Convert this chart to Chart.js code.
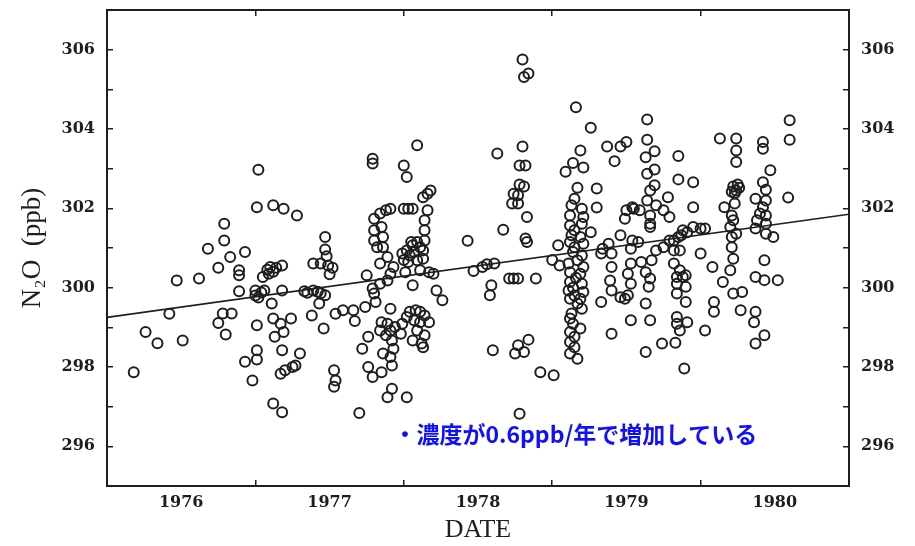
<!DOCTYPE html>
<html>
<head>
<meta charset="utf-8">
<script src="https://cdn.jsdelivr.net/npm/chart.js@4.4.0/dist/chart.umd.min.js"></script>
<style>
  html, body { margin: 0; padding: 0; background: #fff; }
</style>
</head>
<body>
<canvas id="myChart" width="915" height="546"></canvas>
<script>
// x axis: year labels sit in the middle of each year, tick marks at year boundaries
const yearLabels = ['1976', '1977', '1978', '1979', '1980'];
const yearLabelPos = [1976.5, 1977.5, 1978.5, 1979.5, 1980.5];

// linear trend drawn across the whole period
const trendDates = [1976.0, 1981.0];
const trendPpb = [299.25, 301.85];

const noteText = '・濃度が0.6ppb/年で増加している';
const noteAt = [1977.93, 296.3];

// N2O samples [date, ppb]
const obs1976 = [
  [1976.18, 297.87], [1976.26, 298.88], [1976.34, 298.60], [1976.42, 299.34],
  [1976.47, 300.18], [1976.51, 298.67], [1976.62, 300.23], [1976.68, 300.98],
  [1976.75, 300.50], [1976.79, 301.61], [1976.79, 301.19], [1976.75, 299.11],
  [1976.80, 298.82], [1976.84, 299.35], [1976.78, 299.35], [1976.83, 300.77],
  [1976.93, 300.90], [1976.89, 300.44], [1976.89, 300.31], [1976.89, 299.91],
  [1976.93, 298.13], [1976.98, 297.66],
];

const obs1977 = [
  [1977.02, 302.97], [1977.01, 302.03], [1977.12, 302.08], [1977.19, 301.99], [1977.28, 301.82],
  [1977.00, 299.93], [1977.00, 299.80], [1977.02, 299.75], [1977.04, 299.88], [1977.06, 299.93],
  [1977.05, 300.27], [1977.08, 300.45], [1977.10, 300.52], [1977.12, 300.40], [1977.14, 300.50],
  [1977.09, 300.35], [1977.18, 300.56], [1977.18, 299.93], [1977.11, 299.60],
  [1977.33, 299.91], [1977.35, 299.87], [1977.39, 299.93], [1977.42, 299.90], [1977.44, 299.86],
  [1977.47, 299.81], [1977.43, 299.60], [1977.38, 299.30], [1977.46, 298.97],
  [1977.47, 301.28], [1977.47, 300.96], [1977.48, 300.79], [1977.39, 300.61], [1977.44, 300.61],
  [1977.49, 300.56], [1977.52, 300.50], [1977.50, 300.34],
  [1977.01, 299.05], [1977.12, 299.22], [1977.17, 299.09], [1977.24, 299.22], [1977.19, 298.88],
  [1977.13, 298.76], [1977.01, 298.42], [1977.01, 298.19], [1977.18, 298.42], [1977.30, 298.34],
  [1977.17, 297.83], [1977.20, 297.92], [1977.25, 298.00], [1977.27, 298.04],
  [1977.12, 297.08], [1977.18, 296.86], [1977.53, 297.92], [1977.54, 297.66], [1977.53, 297.50],
  [1977.54, 299.34], [1977.59, 299.43],
  [1977.79, 303.25], [1977.79, 303.13],
  [1977.91, 301.99], [1977.88, 301.95], [1977.84, 301.87], [1977.80, 301.74],
  [1977.80, 301.45], [1977.85, 301.53], [1977.86, 301.28], [1977.80, 301.19], [1977.82, 301.02],
  [1977.86, 301.02], [1977.89, 300.77], [1977.84, 300.61],
  [1977.93, 300.52], [1977.91, 300.35], [1977.89, 300.18], [1977.84, 300.10], [1977.75, 300.31],
  [1977.79, 299.98], [1977.80, 299.85], [1977.81, 299.64], [1977.74, 299.51], [1977.66, 299.43],
  [1977.67, 299.16], [1977.99, 300.86],
  [1977.91, 299.47], [1977.85, 299.13], [1977.89, 299.09], [1977.84, 298.92], [1977.88, 298.80],
  [1977.91, 298.92], [1977.94, 299.01], [1977.92, 298.67], [1977.98, 298.84], [1977.99, 299.09],
  [1977.93, 298.46], [1977.91, 298.25], [1977.86, 298.34], [1977.85, 297.87], [1977.92, 298.04],
  [1977.76, 298.76], [1977.72, 298.46], [1977.76, 298.00], [1977.79, 297.75],
  [1977.89, 297.24], [1977.92, 297.45], [1977.70, 296.84],
];

const obs1978 = [
  [1978.09, 303.59], [1978.00, 303.08], [1978.02, 302.79],
  [1978.18, 302.45], [1978.16, 302.37], [1978.13, 302.28],
  [1978.16, 301.95], [1978.14, 301.70], [1978.14, 301.45], [1978.14, 301.19], [1978.13, 300.94],
  [1978.13, 300.73], [1978.00, 301.99], [1978.03, 301.99], [1978.06, 301.99],
  [1978.01, 300.39], [1978.02, 300.94], [1978.06, 301.07], [1978.04, 300.81], [1978.09, 301.15],
  [1978.11, 301.02], [1978.09, 300.69], [1978.11, 300.44], [1978.17, 300.39], [1978.20, 300.35],
  [1978.03, 300.65], [1978.07, 300.90], [1978.00, 300.70], [1978.05, 301.15],
  [1978.06, 300.06], [1978.22, 299.93], [1978.26, 299.68],
  [1978.04, 299.39], [1978.08, 299.43], [1978.11, 299.39], [1978.14, 299.30], [1978.02, 299.26],
  [1978.07, 299.18], [1978.11, 299.13], [1978.17, 299.13], [1978.09, 298.92], [1978.14, 298.80],
  [1978.06, 298.67], [1978.12, 298.59], [1978.13, 298.50], [1978.02, 297.24],
  [1978.80, 305.75], [1978.81, 305.31], [1978.84, 305.40],
  [1978.80, 303.56], [1978.63, 303.38], [1978.78, 303.08], [1978.82, 303.08],
  [1978.78, 302.60], [1978.81, 302.55], [1978.74, 302.37], [1978.77, 302.33], [1978.73, 302.12],
  [1978.77, 302.12], [1978.83, 301.78], [1978.67, 301.46], [1978.82, 301.24], [1978.83, 301.15],
  [1978.43, 301.18], [1978.61, 300.61], [1978.56, 300.59], [1978.53, 300.52], [1978.47, 300.42],
  [1978.59, 300.06], [1978.58, 299.81],
  [1978.71, 300.23], [1978.74, 300.23], [1978.77, 300.23], [1978.89, 300.23],
  [1978.60, 298.42], [1978.84, 298.69], [1978.77, 298.55], [1978.75, 298.34], [1978.81, 298.38],
  [1978.92, 297.87], [1978.78, 296.82],
];

const obs1979 = [
  [1979.01, 297.79], [1979.16, 304.55], [1979.26, 304.03],
  [1979.19, 303.46], [1979.14, 303.14], [1979.09, 302.92], [1979.21, 303.03],
  [1979.30, 302.50], [1979.30, 302.02],
  [1979.17, 302.52], [1979.15, 302.24], [1979.20, 301.99], [1979.13, 302.08], [1979.12, 301.82],
  [1979.21, 301.78], [1979.12, 301.57], [1979.20, 301.61], [1979.15, 301.45], [1979.26, 301.40],
  [1979.13, 301.32], [1979.19, 301.28], [1979.12, 301.15], [1979.21, 301.11], [1979.15, 301.02],
  [1979.04, 301.07], [1979.00, 300.70], [1979.14, 300.90], [1979.20, 300.81], [1979.17, 300.69],
  [1979.11, 300.61], [1979.05, 300.56], [1979.21, 300.52],
  [1979.12, 300.39], [1979.19, 300.35], [1979.12, 300.14], [1979.20, 300.10], [1979.11, 299.93],
  [1979.21, 299.89], [1979.12, 299.72], [1979.19, 299.72], [1979.20, 299.47],
  [1979.16, 300.25], [1979.15, 299.80], [1979.14, 300.00], [1979.17, 299.60],
  [1979.12, 299.22], [1979.14, 299.09], [1979.19, 298.97], [1979.12, 298.88], [1979.15, 298.76],
  [1979.12, 298.63], [1979.15, 298.50], [1979.12, 298.34], [1979.17, 298.21], [1979.13, 299.35],
  [1979.37, 303.56], [1979.46, 303.56], [1979.50, 303.67], [1979.42, 303.19],
  [1979.50, 301.95], [1979.54, 302.03], [1979.49, 301.74], [1979.46, 301.32], [1979.38, 301.11],
  [1979.34, 300.98], [1979.33, 300.86], [1979.40, 300.86], [1979.40, 300.52], [1979.54, 301.19],
  [1979.53, 300.98], [1979.58, 301.15], [1979.53, 300.61], [1979.51, 300.35], [1979.39, 300.18],
  [1979.40, 299.93], [1979.53, 300.10], [1979.46, 299.76], [1979.49, 299.72], [1979.51, 299.81],
  [1979.33, 299.64], [1979.53, 299.18], [1979.40, 298.84],
  [1979.64, 304.24], [1979.64, 303.73], [1979.63, 303.29], [1979.69, 303.44], [1979.69, 302.98],
  [1979.64, 302.87], [1979.69, 302.58], [1979.85, 303.32], [1979.85, 302.73],
  [1979.66, 302.45], [1979.64, 302.20], [1979.70, 302.08], [1979.78, 302.28], [1979.75, 301.95],
  [1979.66, 301.82], [1979.66, 301.61], [1979.66, 301.53], [1979.79, 301.78], [1979.59, 301.95],
  [1979.55, 301.99], [1979.75, 301.02], [1979.79, 301.19], [1979.70, 300.94],
  [1979.60, 300.65], [1979.63, 300.39], [1979.66, 300.23], [1979.65, 300.02], [1979.67, 300.69],
  [1979.63, 299.60], [1979.66, 299.18], [1979.63, 298.38], [1979.74, 298.59], [1979.83, 298.61],
  [1979.84, 300.27], [1979.88, 300.27], [1979.84, 299.85], [1979.90, 300.02], [1979.84, 299.26],
  [1979.91, 299.13], [1979.86, 298.92], [1979.84, 299.09], [1979.89, 297.96],
  [1979.85, 301.28], [1979.88, 301.45], [1979.82, 301.19], [1979.82, 300.94], [1979.86, 300.94],
  [1979.82, 300.61], [1979.86, 300.44], [1979.84, 300.10],
  [1979.95, 302.66], [1979.95, 302.03], [1979.95, 301.53], [1979.91, 301.40], [1979.87, 301.32],
  [1979.90, 300.31], [1979.90, 299.64],
];

const obs1980 = [
  [1980.00, 301.49], [1980.03, 301.49], [1980.00, 300.86], [1980.08, 300.52], [1980.09, 299.64],
  [1980.09, 299.39], [1980.03, 298.92],
  [1980.60, 304.22], [1980.60, 303.73], [1980.59, 302.27],
  [1980.13, 303.76], [1980.24, 303.76], [1980.24, 303.46], [1980.24, 303.17],
  [1980.42, 303.67], [1980.42, 303.50], [1980.47, 302.96],
  [1980.42, 302.66], [1980.44, 302.47], [1980.37, 302.24], [1980.44, 302.20], [1980.42, 302.03],
  [1980.40, 301.87], [1980.44, 301.82], [1980.38, 301.70], [1980.44, 301.61], [1980.37, 301.49],
  [1980.44, 301.36], [1980.49, 301.28],
  [1980.22, 302.55], [1980.24, 302.45], [1980.26, 302.52], [1980.21, 302.42], [1980.25, 302.60],
  [1980.23, 302.38], [1980.16, 302.03], [1980.23, 302.12], [1980.21, 301.82], [1980.22, 301.70],
  [1980.20, 301.53], [1980.24, 301.36], [1980.21, 301.28], [1980.43, 300.69],
  [1980.21, 301.02], [1980.22, 300.73], [1980.20, 300.44], [1980.15, 300.14], [1980.22, 299.85],
  [1980.28, 299.89], [1980.37, 300.27], [1980.43, 300.19], [1980.52, 300.19],
  [1980.27, 299.43], [1980.37, 299.39], [1980.36, 299.13], [1980.43, 298.80], [1980.37, 298.59],
];

const samples = [...obs1976, ...obs1977, ...obs1978, ...obs1979, ...obs1980];

const ink = '#1e1e1e';
const tickFont = { family: '"DejaVu Serif"', size: 16, weight: 'bold' };

const notePlugin = {
  id: 'note',
  afterDatasetsDraw(chart) {
    const { ctx, scales } = chart;
    const x = scales.x.getPixelForValue(noteAt[0]);
    const y = scales.y.getPixelForValue(noteAt[1]);
    ctx.save();
    ctx.font = 'bold 23px "Noto Sans CJK JP"';
    ctx.fillStyle = '#0f0fff';
    ctx.textBaseline = 'middle';
    ctx.textAlign = 'left';
    ctx.fillText(noteText, x, y);
    ctx.restore();
  },
};

// inward tick marks: negative tick length
const frameGrid = {
  drawOnChartArea: false,
  drawTicks: true,
  tickLength: -6,
  color: ink,
  lineWidth: 1.5,
};
const frameBorder = { color: ink, width: 2 };

// pin the plot frame: no extra padding from tick labels
const fixWidth = (w) => (axis) => {
  axis.width = w;
  axis.paddingTop = 0;
  axis.paddingBottom = 0;
};
const fixHeight = (h) => (axis) => {
  axis.height = h;
  axis.paddingLeft = 0;
  axis.paddingRight = 0;
};

const ctx = document.getElementById('myChart');

new Chart(ctx, {
  type: 'scatter',
  data: {
    datasets: [
      {
        label: 'N2O',
        data: samples.map(([d, v]) => ({ x: d, y: v })),
        pointRadius: 5,
        pointHoverRadius: 5,
        pointBorderWidth: 2,
        pointBackgroundColor: 'rgba(0, 0, 0, 0)',
        pointBorderColor: ink,
      },
      {
        type: 'line',
        label: 'trend',
        data: trendDates.map((d, i) => ({ x: d, y: trendPpb[i] })),
        borderColor: ink,
        borderWidth: 1.6,
        pointRadius: 0,
        fill: false,
      },
    ],
  },
  options: {
    responsive: false,
    animation: false,
    events: [],
    layout: { padding: { top: 10 } },
    plugins: {
      legend: { display: false },
      tooltip: { enabled: false },
    },
    scales: {
      x: {
        type: 'linear',
        position: 'bottom',
        min: 1976,
        max: 1981,
        afterBuildTicks: (axis) => {
          axis.ticks = yearLabelPos.map((v) => ({ value: v }));
        },
        afterFit: fixHeight(60),
        ticks: {
          autoSkip: false,
          maxRotation: 0,
          padding: 13,
          color: ink,
          font: tickFont,
          callback: (v, i) => yearLabels[i],
        },
        grid: { ...frameGrid, offset: true },
        border: frameBorder,
        title: {
          display: true,
          text: 'DATE',
          color: ink,
          font: { family: '"Liberation Serif"', size: 26 },
          padding: { top: 0, bottom: 0 },
        },
      },
      x2: {
        type: 'linear',
        position: 'top',
        min: 1976,
        max: 1981,
        afterFit: fixHeight(0),
        ticks: { display: false, stepSize: 1 },
        grid: frameGrid,
        border: frameBorder,
      },
      y: {
        type: 'linear',
        position: 'left',
        min: 295,
        max: 307,
        afterFit: fixWidth(107),
        ticks: {
          stepSize: 1,
          autoSkip: false,
          padding: 18,
          color: ink,
          font: tickFont,
          callback: (v) => (v % 2 === 0 ? String(v) : ''),
        },
        grid: frameGrid,
        border: frameBorder,
        title: {
          display: true,
          text: 'N₂O  (ppb)',
          color: ink,
          font: { family: '"Liberation Serif"', size: 27 },
          padding: { top: 17, bottom: 0 },
        },
      },
      y2: {
        type: 'linear',
        position: 'right',
        min: 295,
        max: 307,
        afterFit: fixWidth(66),
        ticks: {
          stepSize: 1,
          autoSkip: false,
          padding: 18,
          color: ink,
          font: tickFont,
          callback: (v) => (v % 2 === 0 ? String(v) : ''),
        },
        grid: frameGrid,
        border: frameBorder,
      },
    },
  },
  plugins: [notePlugin],
});
</script>
</body>
</html>
